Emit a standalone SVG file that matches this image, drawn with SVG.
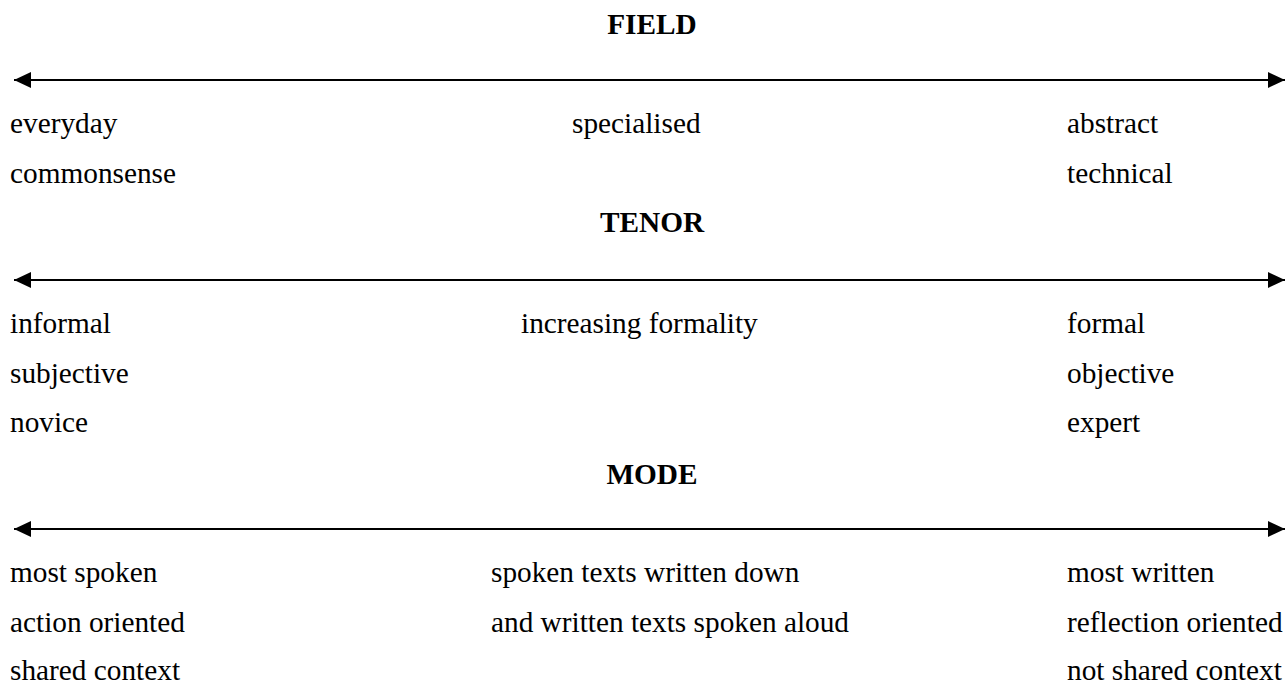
<svg xmlns="http://www.w3.org/2000/svg" width="1285" height="684" viewBox="0 0 1285 684">
<style>
text{font-family:"Liberation Serif","Times New Roman",serif;font-size:29.3px;fill:#000}
.h{font-weight:bold;text-anchor:middle}
.ax{stroke:#000;stroke-width:2;fill:none}
</style>
<defs>
<marker id="ah" viewBox="0 0 17 16" refX="17" refY="8" markerWidth="17" markerHeight="16" markerUnits="userSpaceOnUse" orient="auto-start-reverse">
<path d="M0,0 L17,8 L0,16 Z" fill="#000"/>
</marker>
</defs>
<rect width="1285" height="684" fill="#fff"/>
<g id="connectors">
<line class="ax" x1="14" y1="80" x2="1285" y2="80" marker-start="url(#ah)" marker-end="url(#ah)"/>
<line class="ax" x1="14" y1="280" x2="1285" y2="280" marker-start="url(#ah)" marker-end="url(#ah)"/>
<line class="ax" x1="14" y1="529" x2="1285" y2="529" marker-start="url(#ah)" marker-end="url(#ah)"/>
</g>
<g id="field">
<text class="h" x="652" y="34">FIELD</text>
<text x="10" y="133">everyday</text>
<text x="10" y="183">commonsense</text>
<text x="572" y="133">specialised</text>
<text x="1067" y="133">abstract</text>
<text x="1067" y="183">technical</text>
</g>
<g id="tenor">
<text class="h" x="652" y="232">TENOR</text>
<text x="10" y="333">informal</text>
<text x="10" y="383">subjective</text>
<text x="10" y="432">novice</text>
<text x="521" y="333">increasing formality</text>
<text x="1067" y="333">formal</text>
<text x="1067" y="383">objective</text>
<text x="1067" y="432">expert</text>
</g>
<g id="mode">
<text class="h" x="652" y="484">MODE</text>
<text x="10" y="582">most spoken</text>
<text x="10" y="632">action oriented</text>
<text x="10" y="680">shared context</text>
<text x="491" y="582">spoken texts written down</text>
<text x="491" y="632">and written texts spoken aloud</text>
<text x="1067" y="582">most written</text>
<text x="1067" y="632">reflection oriented</text>
<text x="1067" y="680">not shared context</text>
</g>
</svg>
